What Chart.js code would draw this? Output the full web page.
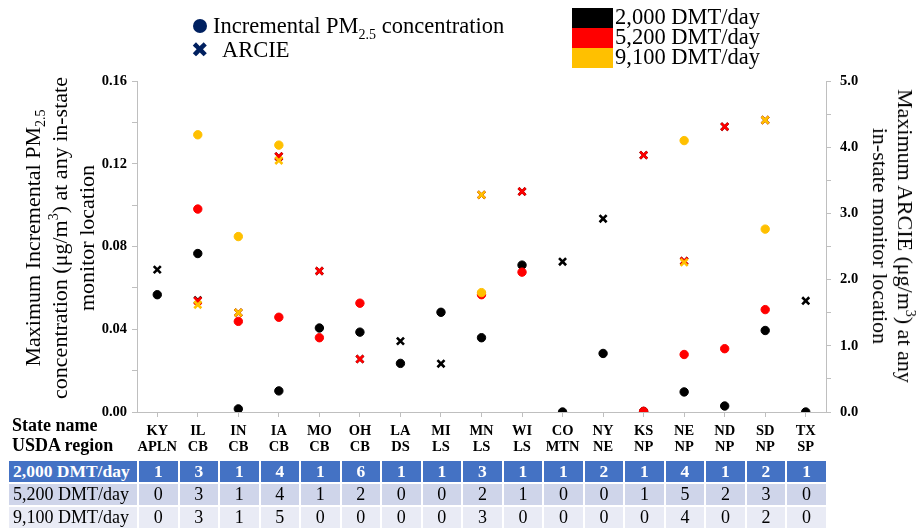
<!DOCTYPE html>
<html>
<head>
<meta charset="utf-8">
<script src="https://cdn.jsdelivr.net/npm/chart.js@4.4.1/dist/chart.umd.min.js"></script>
<style>
  body { margin: 0; background: #fff; font-family: 'Liberation Serif', serif; }
  #wrap { position: relative; width: 917px; height: 532px; overflow: hidden; }
  #chart { position: absolute; left: 0; top: 0; }
  .abs { position: absolute; white-space: nowrap; color: #000; }
  .ytitle { font-size: 22px; line-height: 27px; text-align: center; transform: translate(-50%, -50%) rotate(-90deg); }
  .ytitle2 { font-size: 22px; line-height: 25px; text-align: center; transform: translate(-50%, -50%) rotate(90deg); }
  sub, sup { font-size: 14px; line-height: 0; }
  #tbl { position: absolute; left: 7px; top: 459px; border-collapse: collapse; table-layout: fixed; }
  #tbl td { border: 2px solid #fff; padding: 0; text-align: center; font-size: 18px; height: 21px; line-height: 21px; overflow: hidden; white-space: nowrap; }
  #tbl td.lab { text-align: left; padding-left: 4px; }
  #tbl tr.r0 td { background: #4472C4; color: #fff; font-weight: bold; font-size: 17.5px; }
  #tbl tr.r1 td { background: #CFD5EA; }
  #tbl tr.r2 td { background: #E9EBF5; }
</style>
</head>
<body>
<div id="wrap">
  <canvas id="chart" width="917" height="532"></canvas>

  <!-- легенда слева -->
  <div class="abs" style="left:193px;top:19px;width:14px;height:14px;border-radius:50%;background:#002060;"></div>
  <div class="abs" style="left:213px;top:12px;font-size:22.5px;line-height:28px;">Incremental PM<sub>2.5</sub> concentration</div>
  <div class="abs" style="left:191px;top:37px;font-family:'DejaVu Sans';font-size:21px;line-height:26px;color:#002060;">✖</div>
  <div class="abs" style="left:222px;top:36px;font-size:22.5px;line-height:28px;">ARCIE</div>

  <!-- легенда справа -->
  <div class="abs" style="left:572px;top:8px;width:41px;height:20px;background:#000;"></div>
  <div class="abs" style="left:572px;top:28px;width:41px;height:20px;background:#FF0000;"></div>
  <div class="abs" style="left:572px;top:48px;width:41px;height:20px;background:#FFC000;"></div>
  <div class="abs" style="left:615px;top:7px;font-size:22.5px;line-height:20px;">2,000 DMT/day<br>5,200 DMT/day<br>9,100 DMT/day</div>

  <!-- подписи осей -->
  <div class="abs ytitle" style="left:59px;top:238px;">Maximum Incremental PM<sub>2.5</sub><br>concentration (μg/m<sup>3</sup>) at any in-state<br>monitor location</div>
  <div class="abs ytitle2" style="left:893px;top:236px;">Maximum ARCIE (μg/m<sup>3</sup>) at any<br>in-state monitor location</div>

  <div class="abs" style="left:12px;top:415px;font-size:18px;font-weight:bold;line-height:20px;">State name<br>USDA region</div>

  <table id="tbl"></table>
</div>

<script>
// --- данные ---
const states  = ['KY','IL','IN','IA','MO','OH','LA','MI','MN','WI','CO','NY','KS','NE','ND','SD','TX'];
const regions = ['APLN','CB','CB','CB','CB','CB','DS','LS','LS','LS','MTN','NE','NP','NP','NP','NP','SP'];

// Incremental PM2.5 (левая ось)
const pm2000 = [0.0567, 0.0766, 0.0015, 0.0102, 0.0406, 0.0386, 0.0235, 0.0482, 0.0359, 0.0710, 0.0, 0.0283, 0.0003, 0.0097, 0.0029, 0.0394, 0.0];
const pm5200 = [null, 0.0981, 0.0438, 0.0458, 0.0359, 0.0526, null, null, 0.0567, 0.0676, null, null, 0.0003, 0.0278, 0.0306, 0.0495, null];
const pm9100 = [null, 0.1340, 0.0848, 0.1290, null, null, null, null, 0.0577, null, null, null, null, 0.1312, null, 0.0884, null];

// ARCIE (правая ось)
const arcie2000 = [2.15, 1.69, 1.50, 3.86, 2.13, 0.80, 1.07, 0.73, 3.28, 3.33, 2.27, 2.92, 3.88, 2.28, 4.31, 4.41, 1.68];
const arcie5200 = [null, 1.68, 1.50, 3.86, 2.13, 0.80, null, null, 3.28, 3.33, null, null, 3.88, 2.28, 4.31, 4.41, null];
const arcie9100 = [null, 1.62, 1.50, 3.80, null, null, null, null, 3.28, null, null, null, null, 2.26, null, 4.41, null];

// число предприятий
const rowLabels = ['2,000 DMT/day', '5,200 DMT/day', '9,100 DMT/day'];
const cnt2000 = [1,3,1,4,1,6,1,1,3,1,1,2,1,4,1,2,1];
const cnt5200 = [0,3,1,4,1,2,0,0,2,1,0,0,1,5,2,3,0];
const cnt9100 = [0,3,1,5,0,0,0,0,3,0,0,0,0,4,0,2,0];

const BLACK = '#000000', RED = '#FF0000', YEL = '#FFC000', AXIS = '#BFBFBF';
const tickFont = { family: 'Liberation Serif', size: 14.5, weight: 'bold', lineHeight: 1.05 };

const dot = (data, color) => ({
  data, yAxisID: 'y', showLine: false,
  pointStyle: 'circle', pointRadius: 4.2, pointBorderWidth: 1,
  pointBackgroundColor: color, pointBorderColor: color, pointHoverRadius: 4
});
const cross = (data, color) => ({
  data, yAxisID: 'y1', showLine: false,
  pointStyle: 'crossRot', pointRadius: 5, pointBorderWidth: 2.6,
  pointBackgroundColor: color, pointBorderColor: color, pointHoverRadius: 5
});

const chart = new Chart(document.getElementById('chart'), {
  type: 'line',
  data: {
    labels: states.map((s, i) => [s, regions[i]]),
    // первый набор рисуется поверх
    datasets: [
      dot(pm9100, YEL), cross(arcie9100, YEL),
      cross(arcie5200, RED), dot(pm5200, RED),
      cross(arcie2000, BLACK), dot(pm2000, BLACK)
    ]
  },
  options: {
    responsive: false,
    animation: false,
    events: [],
    layout: { padding: { top: 81, bottom: 75, left: 0, right: 0 } },
    plugins: { legend: { display: false }, tooltip: { enabled: false } },
    scales: {
      x: {
        offset: true,
        grid: { drawOnChartArea: false, drawTicks: true, tickLength: 5, color: AXIS },
        border: { color: AXIS },
        ticks: { color: '#000', font: tickFont, padding: 7, maxRotation: 0, autoSkip: false },
        afterFit: s => { s.height = 45; }
      },
      y: {
        position: 'left', min: 0, max: 0.16,
        grid: { drawOnChartArea: false, tickLength: 5, color: AXIS },
        border: { color: AXIS },
        ticks: {
          stepSize: 0.02, color: '#000', font: tickFont, padding: 5,
          callback: v => (Math.round(v * 100) % 4 === 0 ? v.toFixed(2) : '')
        },
        afterFit: s => { s.width = 137; }
      },
      y1: {
        position: 'right', min: 0, max: 5,
        grid: { drawOnChartArea: false, tickLength: 5, color: AXIS },
        border: { color: AXIS },
        ticks: {
          stepSize: 0.5, color: '#000', font: tickFont, padding: 9,
          callback: v => (Math.round(v * 10) % 10 === 0 ? v.toFixed(1) : '')
        },
        afterFit: s => { s.width = 91; }
      }
    }
  }
});

/* --- таблица под графиком, колонки по оси X --- */
const area = chart.chartArea;
const colW = (area.right - area.left) / states.length;
const tbl = document.getElementById('tbl');
tbl.style.width = (area.right - 7) + 'px';
let html = `<colgroup><col style="width:${area.left - 7}px">` +
  states.map(() => `<col style="width:${colW}px">`).join('') + '</colgroup>';
[cnt2000, cnt5200, cnt9100].forEach((row, r) => {
  html += `<tr class="r${r}"><td class="lab">${rowLabels[r]}</td>` +
    row.map(v => `<td>${v}</td>`).join('') + '</tr>';
});
tbl.innerHTML = html;
</script>
</body>
</html>
